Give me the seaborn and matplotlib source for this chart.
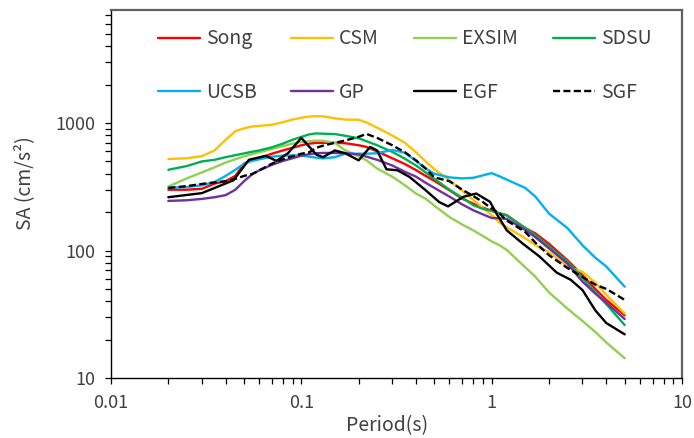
import matplotlib
matplotlib.use("Agg")
import matplotlib.pyplot as plt
import seaborn as sns
from matplotlib.ticker import LogLocator, FixedLocator, FixedFormatter, NullFormatter

# ---------------- data ----------------
period = [0.02, 0.025, 0.03, 0.035, 0.04, 0.045, 0.05, 0.055, 0.06, 0.07, 0.08, 0.09,
          0.1, 0.11, 0.12, 0.13, 0.15, 0.17, 0.2, 0.22, 0.25, 0.3, 0.35, 0.4, 0.45,
          0.5, 0.6, 0.7, 0.8, 0.9, 1.0, 1.1, 1.2, 1.5, 1.7, 2.0, 2.5, 3.0, 3.5, 4.0, 5.0]

song = [300, 300, 305, 335, 350, 385, 480, 515, 530, 575, 610, 640,
        670, 690, 700, 700, 700, 695, 670, 650, 600, 530, 477, 428, 385,
        352, 297, 255, 233, 217, 205, 196, 189, 150, 136, 113, 84, 64, 50, 41, 31]

csm = [522, 530, 550, 610, 740, 863, 910, 940, 950, 970, 1015, 1067,
       1100, 1125, 1132, 1130, 1090, 1065, 1062, 1010, 920, 800, 700, 590, 500,
       435, 355, 295, 250, 215, 190, 165, 152, 125, 110, 97, 75, 68, 56, 45, 32]

exsim = [318, 368, 410, 450, 490, 520, 548, 570, 590, 625, 660, 690,
         710, 720, 728, 725, 700, 610, 548, 510, 440, 380, 325, 280, 255,
         225, 183, 160, 144, 130, 118, 110, 101, 74, 62, 47, 35, 28, 23, 19, 14.3]

sdsu = [430, 460, 500, 515, 540, 560, 578, 595, 610, 645, 690, 740,
        780, 815, 830, 825, 820, 795, 760, 720, 670, 595, 525, 465, 410,
        365, 300, 260, 227, 212, 205, 196, 189, 150, 132, 108, 82, 61, 47, 38, 26]

ucsb = [310, 315, 325, 345, 385, 430, 480, 505, 520, 545, 555, 558,
        555, 545, 535, 528, 540, 575, 575, 575, 580, 615, 585, 505, 440,
        400, 375, 368, 372, 389, 405, 382, 360, 310, 264, 195, 150, 110, 88, 75, 52]

gp = [245, 248, 254, 262, 272, 300, 350, 395, 425, 470, 505, 530,
      555, 570, 580, 583, 583, 580, 568, 545, 515, 465, 415, 380, 340,
      310, 265, 230, 207, 192, 180, 179, 177, 145, 127, 104, 79, 57, 46, 39, 29]

sgf = [310, 320, 333, 342, 350, 365, 385, 398, 425, 480, 520, 550,
       575, 590, 640, 665, 700, 730, 780, 822, 765, 670, 590, 510, 440,
       375, 350, 300, 268, 240, 213, 195, 172, 140, 115, 92, 73, 62, 54, 50, 41]

egf_period = [0.02, 0.03, 0.036, 0.044, 0.053, 0.065, 0.074, 0.085, 0.1, 0.12, 0.13,
              0.15, 0.17, 0.2, 0.23, 0.25, 0.28, 0.32, 0.37, 0.45, 0.53, 0.59, 0.71,
              0.83, 0.98, 1.06, 1.2, 1.46, 1.78, 2.2, 2.6, 3.0, 3.5, 4.0, 5.0]
egf = [262, 282, 315, 356, 515, 553, 505, 580, 765, 565, 540,
       610, 580, 510, 650, 610, 434, 426, 378, 297, 240, 222, 264,
       280, 241, 195, 144, 113, 90, 67, 59, 49, 34, 27, 22]

x_ticks = [0.01, 0.1, 1, 10]
x_tick_labels = ["0.01", "0.1", "1", "10"]
y_ticks = [10, 100, 1000]
y_tick_labels = ["10", "100", "1000"]

# ---------------- style ----------------
sns.set_style("ticks")
plt.rcParams['font.family'] = ['Noto Sans CJK JP', 'DejaVu Sans']
TXT = '#404040'

fig = plt.figure(figsize=(6.94, 4.38), dpi=100)
ax = fig.add_axes([0.160, 0.137, 0.8227, 0.840])

series = [
    ("Song", period, song, "#FF0000", "-"),
    ("CSM", period, csm, "#FFC000", "-"),
    ("EXSIM", period, exsim, "#92D050", "-"),
    ("SDSU", period, sdsu, "#00B050", "-"),
    ("UCSB", period, ucsb, "#00B0F0", "-"),
    ("GP", period, gp, "#7030A0", "-"),
    ("EGF", egf_period, egf, "#000000", "-"),
    ("SGF", period, sgf, "#000000", (0, (3, 1.4))),
]
for name, xs, ys, col, ls in series:
    sns.lineplot(x=xs, y=ys, ax=ax, color=col, linestyle=ls, linewidth=1.7,
                 label=name, estimator=None, sort=False)

ax.set_xscale('log')
ax.set_yscale('log')
ax.set_xlim(0.01, 10)
ax.set_ylim(10, 7700)

ax.xaxis.set_major_locator(FixedLocator(x_ticks))
ax.xaxis.set_major_formatter(FixedFormatter(x_tick_labels))
ax.yaxis.set_major_locator(FixedLocator(y_ticks))
ax.yaxis.set_major_formatter(FixedFormatter(y_tick_labels))
ax.xaxis.set_minor_locator(LogLocator(base=10, subs=range(2, 10)))
ax.yaxis.set_minor_locator(LogLocator(base=10, subs=range(2, 10)))
ax.xaxis.set_minor_formatter(NullFormatter())
ax.yaxis.set_minor_formatter(NullFormatter())

ax.tick_params(which='both', direction='out', length=4.5, width=0.9, color='black',
               top=False, right=False, labelsize=13, labelcolor=TXT, pad=7)

for s in ['left', 'bottom']:
    ax.spines[s].set_color('black')
    ax.spines[s].set_linewidth(1.0)
for s in ['top', 'right']:
    ax.spines[s].set_color('#606060')
    ax.spines[s].set_linewidth(1.6)

ax.set_xlabel("Period(s)", fontsize=14, color=TXT)
ax.set_ylabel("SA (cm/s²)", fontsize=14, color=TXT)
ax.xaxis.set_label_coords(0.483, -0.100)
ax.yaxis.set_label_coords(-0.133, 0.53)

handles, labels = ax.get_legend_handles_labels()
order = [0, 4, 1, 5, 2, 6, 3, 7]
leg = ax.legend([handles[i] for i in order], [labels[i] for i in order],
                ncol=4, loc='upper left', bbox_to_anchor=(0.082, 0.950),
                frameon=False, fontsize=14, handlelength=2.16, handletextpad=0.3,
                columnspacing=1.8, labelspacing=1.66, borderpad=0, borderaxespad=0)
for t in leg.get_texts():
    t.set_color(TXT)

fig.savefig("out.png", dpi=100)
